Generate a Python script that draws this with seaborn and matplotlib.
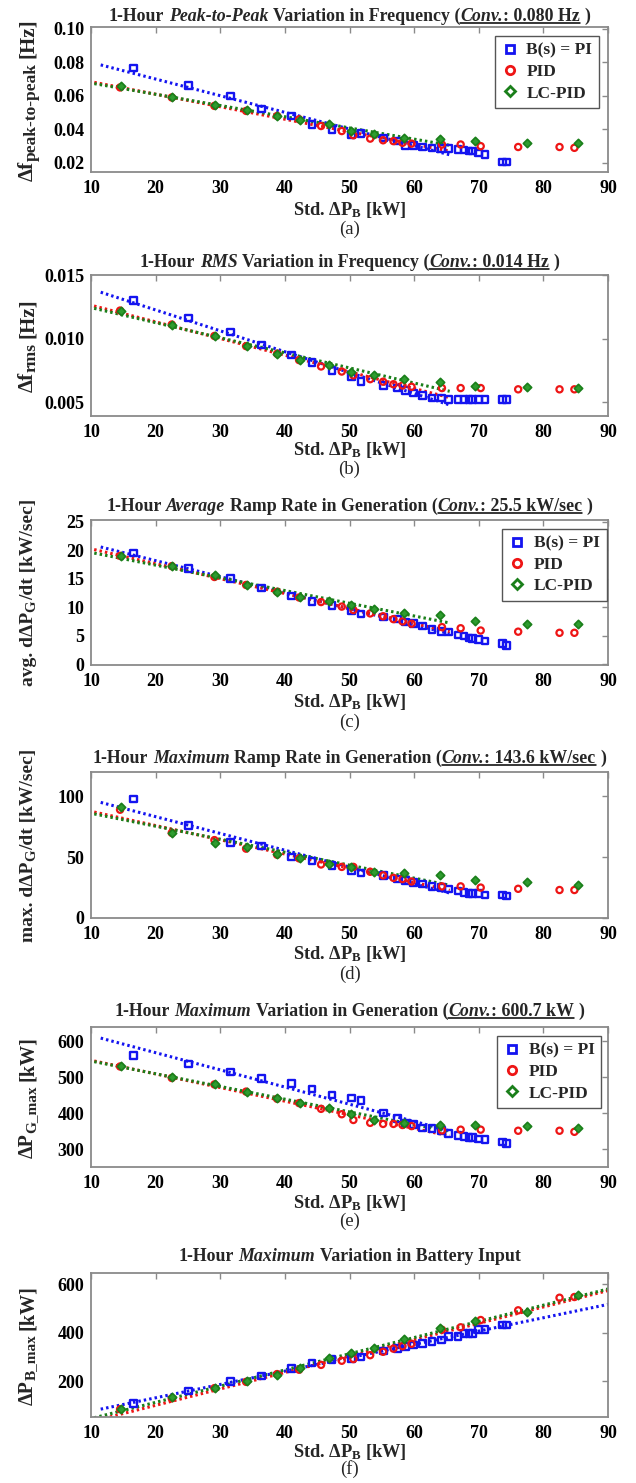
import numpy as np
import matplotlib
matplotlib.use("Agg")
import matplotlib.pyplot as plt
from matplotlib.lines import Line2D
import seaborn as sns

# ---------------- data ----------------
x_pi = [16.6, 25.1, 31.6, 36.4, 41.0, 44.2, 47.3, 50.3, 51.8, 55.3, 57.4, 58.7, 59.9,
        61.3, 62.8, 64.2, 65.3, 66.8, 67.7, 68.5, 69.0, 70.0, 71.0, 73.7, 74.3]
x_pid = [14.5, 22.5, 29.1, 34.0, 38.8, 42.2, 45.6, 48.8, 50.6, 53.2, 55.2, 56.8, 58.2,
         59.6, 64.3, 67.2, 70.3, 76.1, 82.5, 84.8]
x_lc = [14.6, 22.6, 29.2, 34.1, 38.8, 42.4, 46.8, 50.3, 53.8, 58.5, 64.0, 69.4, 77.4, 85.4]

a_pi = [0.0765, 0.066, 0.060, 0.052, 0.048, 0.043, 0.040, 0.037, 0.0375, 0.035, 0.033,
        0.0305, 0.0305, 0.0295, 0.029, 0.0285, 0.0285, 0.028, 0.0278, 0.027, 0.027,
        0.0258, 0.025, 0.0205, 0.0205]
a_pid = [0.065, 0.059, 0.054, 0.051, 0.048, 0.046, 0.042, 0.039, 0.0365, 0.0345, 0.0335,
         0.033, 0.032, 0.0315, 0.031, 0.031, 0.030, 0.0295, 0.0295, 0.029]
a_lc = [0.066, 0.059, 0.0545, 0.0515, 0.048, 0.0455, 0.043, 0.039, 0.037, 0.035, 0.0345,
        0.033, 0.032, 0.032]

b_pi = [0.0130, 0.0116, 0.0105, 0.0095, 0.0087, 0.0081, 0.0075, 0.0070, 0.0066, 0.0063,
        0.0061, 0.0059, 0.0057, 0.0055, 0.0053, 0.0053, 0.0052, 0.0052, 0.0052, 0.0052,
        0.0052, 0.0052, 0.0052, 0.0052, 0.0052]
b_pid = [0.0122, 0.0111, 0.0102, 0.0094, 0.0088, 0.0083, 0.0078, 0.0074, 0.0071, 0.0068,
         0.0066, 0.0064, 0.0063, 0.0062, 0.0061, 0.0061, 0.0061, 0.0060, 0.0060, 0.0060]
b_lc = [0.0122, 0.0111, 0.0102, 0.0094, 0.0088, 0.0083, 0.0079, 0.0074, 0.0071, 0.0068,
        0.0066, 0.0063, 0.0062, 0.0061]

c_pi = [19.5, 16.8, 15.0, 13.4, 12.0, 11.0, 10.3, 9.4, 8.8, 8.3, 7.9, 7.4, 7.1, 6.7, 6.1,
        5.7, 5.6, 5.1, 4.9, 4.6, 4.5, 4.3, 4.1, 3.6, 3.3]
c_pid = [19.0, 17.2, 15.3, 13.9, 12.7, 11.7, 10.9, 10.1, 9.5, 8.9, 8.4, 7.9, 7.5, 7.1, 6.5,
         6.3, 5.9, 5.7, 5.5, 5.5]
c_lc = [19.0, 17.2, 15.6, 13.9, 12.7, 11.8, 11.0, 10.3, 9.6, 9.0, 8.6, 7.5, 7.1, 7.0]

d_pi = [98, 76, 62, 59, 50, 47, 43, 39, 37, 35, 32, 31, 29, 28, 26, 25, 24, 22, 21, 20,
        20, 20, 19, 19, 18]
d_pid = [89, 70, 64, 57, 52, 49, 44, 42, 42, 38, 35, 33, 32, 30, 26, 26, 25, 24, 23, 23]
d_lc = [91, 70, 62, 58, 53, 49, 44, 42, 38, 37, 35, 31, 30, 27]

e_pi = [560, 537, 515, 497, 483, 467, 451, 442, 435, 400, 385, 373, 368, 358, 357, 352,
        343, 338, 335, 332, 332, 328, 326, 319, 316]
e_pid = [530, 498, 480, 460, 440, 428, 412, 397, 381, 373, 370, 370, 367, 364, 352, 354,
         354, 351, 351, 348]
e_lc = [531, 502, 480, 460, 442, 428, 413, 398, 382, 372, 367, 367, 363, 360]

f_pi = [108, 160, 200, 222, 253, 275, 290, 295, 300, 325, 335, 343, 350, 357, 365, 370,
        385, 385, 398, 398, 398, 413, 413, 433, 433]
f_pid = [85, 130, 172, 198, 230, 248, 268, 285, 292, 308, 322, 335, 345, 355, 413, 423,
         453, 493, 545, 548]
f_lc = [88, 135, 172, 200, 228, 255, 295, 315, 338, 375, 420, 448, 485, 555]

series_names = ["B(s) = PI", "PID", "LC-PID"]
x_ticks = [10, 20, 30, 40, 50, 60, 70, 80, 90]

# ---------------- style ----------------
sns.set_style("white")
SERIF = ["Liberation Serif", "DejaVu Serif"]
plt.rcParams["font.family"] = SERIF
plt.rcParams["font.weight"] = "bold"
plt.rcParams["mathtext.fontset"] = "custom"
plt.rcParams["mathtext.rm"] = "Liberation Serif:bold"
plt.rcParams["mathtext.bf"] = "Liberation Serif:bold"
plt.rcParams["mathtext.it"] = "Liberation Serif:italic:bold"
plt.rcParams["mathtext.default"] = "rm"

BLUE = "#1414f0"
RED = "#ee1515"
GREEN = "#1a7f1a"
GREEN_FILL = "#2f9c2f"
SPINE = "#8a8a8a"

W_PX, H_PX = 636, 1483
fig = plt.figure(figsize=(W_PX / 100, H_PX / 100), dpi=100)
fig.patch.set_facecolor("white")

AX_L, AX_R = 91, 608

# title pieces: (text, italic, underline, space_before)
panels = [
    dict(pi=a_pi, pid=a_pid, lc=a_lc, top=27, bot=172, ylim=(0.0146, 0.101),
         yticks=[0.02, 0.04, 0.06, 0.08, 0.10], fmt="{:.2f}",
         ylabel=[("Δf", 15, 0, 0), ("peak-to-peak", 12.5, 3, 0), ("[Hz]", 15, 0, 1)],
         title=[("1-Hour", 0, 0, 0), ("Peak-to-Peak", 1, 0, 1),
                ("Variation in Frequency (", 0, 0, 1), ("Conv.", 1, 1, 0),
                (": 0.080 Hz", 0, 1, 0), (")", 0, 0, 1)],
         ty=21, xly=210, sub="(a)", suby=229, legend=True, legdx=0.0,
         fit_max=65.5, x_end=65.5),
    dict(pi=b_pi, pid=b_pid, lc=b_lc, top=275, bot=416, ylim=(0.0039, 0.0150),
         yticks=[0.005, 0.010, 0.015], fmt="{:.3f}",
         ylabel=[("Δf", 15, 0, 0), ("rms", 12.5, 3, 0), ("[Hz]", 15, 0, 1)],
         title=[("1-Hour", 0, 0, 0), ("RMS", 1, 0, 1),
                ("Variation in Frequency (", 0, 0, 1), ("Conv.", 1, 1, 0),
                (": 0.014 Hz", 0, 1, 0), (")", 0, 0, 1)],
         ty=267, xly=450, sub="(b)", suby=469, legend=False, legdx=0.0,
         fit_max=65.5, x_end=65.5),
    dict(pi=c_pi, pid=c_pid, lc=c_lc, top=520, bot=665, ylim=(-0.15, 25.3),
         yticks=[0, 5, 10, 15, 20, 25], fmt="{:.0f}",
         ylabel=[("avg. dΔP", 14, 0, 0), ("G", 10.5, 2, 0), ("/dt [kW/sec]", 14, 0, 0)],
         title=[("1-Hour", 0, 0, 0), ("Average", 1, 0, 1),
                ("Ramp Rate in Generation (", 0, 0, 1), ("Conv.", 1, 1, 0),
                (": 25.5 kW/sec", 0, 1, 0), (")", 0, 0, 1)],
         ty=511, xly=702, sub="(c)", suby=722, legend=True, legdx=0.014,
         fit_max=65.5, x_end=65.5),
    dict(pi=d_pi, pid=d_pid, lc=d_lc, top=772, bot=918, ylim=(0, 120),
         yticks=[0, 50, 100], fmt="{:.0f}",
         ylabel=[("max. dΔP", 14, 0, 0), ("G", 10.5, 2, 0), ("/dt [kW/sec]", 14, 0, 0)],
         title=[("1-Hour", 0, 0, 0), ("Maximum", 1, 0, 1),
                ("Ramp Rate in Generation (", 0, 0, 1), ("Conv.", 1, 1, 0),
                (": 143.6 kW/sec", 0, 1, 0), (")", 0, 0, 1)],
         ty=763, xly=954, sub="(d)", suby=974, legend=False, legdx=0.0,
         fit_max=65.5, x_end=65.5),
    dict(pi=e_pi, pid=e_pid, lc=e_lc, top=1027, bot=1167, ylim=(250, 640),
         yticks=[300, 400, 500, 600], fmt="{:.0f}",
         ylabel=[("ΔP", 14.5, 0, 0), ("G_max", 11, 2, 0), ("[kW]", 14.5, 0, 1)],
         title=[("1-Hour", 0, 0, 0), ("Maximum", 1, 0, 1),
                ("Variation in Generation (", 0, 0, 1), ("Conv.", 1, 1, 0),
                (": 600.7 kW", 0, 1, 0), (")", 0, 0, 1)],
         ty=1016, xly=1203, sub="(e)", suby=1221, legend=True, legdx=0.004,
         fit_max=65.5, x_end=65.5),
    dict(pi=f_pi, pid=f_pid, lc=f_lc, top=1273, bot=1417, ylim=(53, 647),
         yticks=[200, 400, 600], fmt="{:.0f}",
         ylabel=[("ΔP", 14.5, 0, 0), ("B_max", 11, 2, 0), ("[kW]", 14.5, 0, 1)],
         title=[("1-Hour", 0, 0, 0), ("Maximum", 1, 0, 1),
                ("Variation in Battery Input", 0, 0, 1)],
         ty=1261, xly=1452, sub="(f)", suby=1469, legend=False, legdx=0.0,
         fit_max=100, x_end=91),
]

renderer = fig.canvas.get_renderer()


def _mk(s, size, italic, rot=0):
    return fig.text(0, 0, s, fontsize=size, fontweight="bold",
                    fontstyle="italic" if italic else "normal",
                    ha="left", va="baseline", family=SERIF,
                    rotation=rot, rotation_mode="anchor")


def _space(size):
    t1, t2 = _mk("a a", size, 0), _mk("aa", size, 0)
    sp = t1.get_window_extent(renderer).width - t2.get_window_extent(renderer).width
    t1.remove(); t2.remove()
    return sp


def rich_title(xc, yb, pieces, size):
    sp = _space(size)
    objs, total = [], 0.0
    for s, it, ul, gap in pieces:
        t = _mk(s, size, it)
        w = t.get_window_extent(renderer).width
        objs.append((t, w, ul, gap))
        total += w + (sp if gap else 0)
    x = xc - total / 2
    ul_x = []
    for t, w, ul, gap in objs:
        if gap:
            x += sp
        t.set_position((x / W_PX, 1 - yb / H_PX))
        if ul:
            ul_x.append((x, x + w))
        x += w
    if ul_x:
        x0, x1 = ul_x[0][0], ul_x[-1][1]
        yy = 1 - (yb + 2.2) / H_PX
        fig.add_artist(Line2D([x0 / W_PX, x1 / W_PX], [yy, yy],
                              transform=fig.transFigure, color="black", lw=1.1))


def rich_ylabel(xb, yc, pieces):
    # vertical text reading bottom-to-top; xb is baseline x (pixels), yc centre (pixels, from top)
    items, total = [], 0.0
    for s, size, shift, gap in pieces:
        t = _mk(s, size, 0)
        w = t.get_window_extent(renderer).width
        t.remove()
        g = _space(size) if gap else 0.0
        items.append((s, size, shift, g, w))
        total += w + g
    y = yc + total / 2
    for s, size, shift, g, w in items:
        y -= g
        t = _mk(s, size, 0, rot=90)
        t.set_position(((xb + shift) / W_PX, 1 - y / H_PX))
        y -= w


def trend(ax, x, y, color, x0, x1, fit_max):
    x = np.asarray(x, float)
    y = np.asarray(y, float)
    m = x <= fit_max
    k, b = np.polyfit(x[m], y[m], 1)
    xs = np.array([x0, x1])
    sns.lineplot(x=xs, y=k * xs + b, ax=ax, color=color, lw=2.2,
                 linestyle=(0, (0.8, 1.0)), legend=False)


for p in panels:
    bottom = 1 - p["bot"] / H_PX
    height = (p["bot"] - p["top"]) / H_PX
    ax = fig.add_axes([AX_L / W_PX, bottom, (AX_R - AX_L) / W_PX, height])
    ax.set_facecolor("white")

    trend(ax, x_pi, p["pi"], BLUE, 11.5, p["x_end"], p["fit_max"])
    trend(ax, x_pid, p["pid"], RED, 8, p["x_end"], p["fit_max"])
    trend(ax, x_lc, p["lc"], GREEN, 8, p["x_end"], p["fit_max"])

    sns.scatterplot(x=x_pi, y=p["pi"], ax=ax, marker="s", s=22, facecolor="none",
                    edgecolor=BLUE, linewidth=1.7, legend=False, zorder=3)
    sns.scatterplot(x=x_pid, y=p["pid"], ax=ax, marker="o", s=20, facecolor="none",
                    edgecolor=RED, linewidth=1.6, legend=False, zorder=3)
    sns.scatterplot(x=x_lc, y=p["lc"], ax=ax, marker="D", s=18, facecolor=GREEN_FILL,
                    edgecolor=GREEN, linewidth=1.2, legend=False, zorder=3)

    ax.set_xlim(10, 90)
    ax.set_ylim(*p["ylim"])
    ax.set_xticks(x_ticks)
    ax.set_xticklabels([str(t) for t in x_ticks])
    ax.set_yticks(p["yticks"])
    ax.set_yticklabels([p["fmt"].format(t) for t in p["yticks"]])
    ax.tick_params(direction="in", length=4, width=1, colors=SPINE, top=True,
                   right=True, labelsize=13, labelcolor="black")
    ax.tick_params(axis="x", pad=6)
    ax.tick_params(axis="y", pad=5)
    for lab in ax.get_xticklabels() + ax.get_yticklabels():
        lab.set_fontweight("bold")
    for s in ax.spines.values():
        s.set_color(SPINE)
        s.set_linewidth(1.3)
        s.set_visible(True)
    ax.set_xlabel("")
    ax.set_ylabel("")

    xc = (AX_L + AX_R) / 2
    rich_title(xc, p["ty"], p["title"], 12.9)
    fig.text(xc / W_PX, 1 - p["xly"] / H_PX, "Std. ΔP$_{\\mathrm{B}}$ [kW]",
             ha="center", va="center", fontsize=13.2, fontweight="bold")
    fig.text(xc / W_PX, 1 - p["suby"] / H_PX, p["sub"], ha="center", va="center",
             fontsize=13.5, fontweight="normal")
    yc = (p["top"] + p["bot"]) / 2
    rich_ylabel(33, yc, p["ylabel"])

    if p["legend"]:
        handles = [
            Line2D([], [], ls="none", marker="s", ms=6.0, mfc="none", mec=BLUE, mew=2.0),
            Line2D([], [], ls="none", marker="o", ms=6.0, mfc="none", mec=RED, mew=2.0),
            Line2D([], [], ls="none", marker="D", ms=5.5, mfc="none", mec=GREEN, mew=2.0),
        ]
        leg = ax.legend(handles, series_names, loc="upper right", frameon=True,
                        fancybox=False, framealpha=1, edgecolor="#555555",
                        bbox_to_anchor=(1.0 + p["legdx"], 1.0),
                        prop={"family": SERIF, "weight": "bold", "size": 12.5},
                        handlelength=0.9, handletextpad=0.5, labelspacing=0.3,
                        borderpad=0.4, borderaxespad=0.5)
        leg.get_frame().set_linewidth(1.0)

fig.savefig("out.png", dpi=100, facecolor="white")
